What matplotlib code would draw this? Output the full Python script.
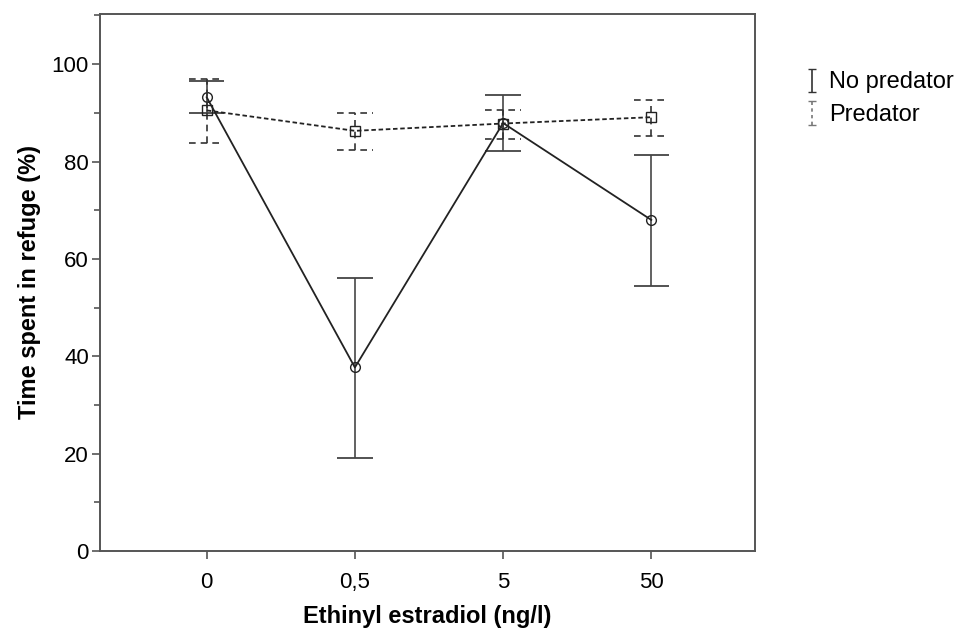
import numpy as np
import matplotlib
matplotlib.use('Agg')
import matplotlib.pyplot as plt

plt.rcParams['font.family'] = ['Liberation Sans', 'DejaVu Sans']

doses = ['0', '0,5', '5', '50']

nopred_mean = [93.2, 37.7, 87.9, 68.0]
nopred_lo = [89.9, 19.2, 82.2, 54.4]
nopred_hi = [96.5, 56.1, 93.7, 81.4]

pred_mean = [90.5, 86.3, 87.8, 89.1]
pred_lo = [83.8, 82.3, 84.7, 85.3]
pred_hi = [96.9, 90.0, 90.6, 92.6]

x = np.arange(len(doses))
capw = 0.12

fig = plt.figure(figsize=(9.55, 6.3), dpi=100)
ax = fig.add_axes([0.1047, 0.1254, 0.6859, 0.8524])

# no predator - solid
ax.vlines(x, nopred_lo, nopred_hi, colors='#555555', lw=1.3)
ax.hlines(nopred_lo, x - capw, x + capw, colors='#444444', lw=1.3)
ax.hlines(nopred_hi, x - capw, x + capw, colors='#444444', lw=1.3)
ax.plot(x, nopred_mean, color='#222222', lw=1.3, marker='o', ms=7,
        mfc='none', mec='#222222', mew=1.0)

# predator - dashed
ax.vlines(x, pred_lo, pred_hi, colors='#333333', lw=1.2, linestyles=(0, (4, 3)))
ax.hlines(pred_lo, x - capw, x + capw, colors='#333333', lw=1.2, linestyles=(0, (4, 3)))
ax.hlines(pred_hi, x - capw, x + capw, colors='#333333', lw=1.2, linestyles=(0, (4, 3)))
ax.plot(x, pred_mean, color='#222222', lw=1.3, ls=(0, (2.5, 1.5)), marker='s', ms=7,
        mfc='none', mec='#222222', mew=1.0)

ax.set_xlim(-0.72, 3.70)
ax.set_ylim(0, 110.3)
ax.set_xticks(x)
ax.set_xticklabels(doses)
ax.set_yticks([0, 20, 40, 60, 80, 100])
ax.set_yticks([10, 30, 50, 70, 90, 110], minor=True)
ax.tick_params(axis='both', labelsize=16, length=6, width=1.2, color='#555555', direction='out')
ax.tick_params(axis='x', pad=9)
ax.tick_params(axis='y', pad=2)
ax.tick_params(axis='y', which='minor', length=4, width=1.2, color='#555555')
for s in ax.spines.values():
    s.set_color('#555555')
    s.set_linewidth(1.4)

ax.set_xlabel('Ethinyl estradiol (ng/l)', fontsize=17, fontweight='bold', labelpad=9)
ax.set_ylabel('Time spent in refuge (%)', fontsize=17, fontweight='bold', labelpad=8)

# legend with error bar glyphs only
h1 = ax.errorbar([np.nan], [np.nan], yerr=[[1], [1]], fmt='none', ecolor='#333333',
                 capsize=3, elinewidth=1.2, label='No predator')
h2 = ax.errorbar([np.nan], [np.nan], yerr=[[1], [1]], fmt='none', ecolor='#777777',
                 capsize=3, elinewidth=1.2, label='Predator')
h2[2][0].set_linestyle((0, (2, 2)))
leg = fig.legend(handles=[h1, h2], loc='upper left', bbox_to_anchor=(0.822, 0.921),
                 frameon=False, fontsize=17, handlelength=0.5, handleheight=0.5,
                 handletextpad=0.45, labelspacing=0.45)

fig.savefig('out.png', dpi=100)
